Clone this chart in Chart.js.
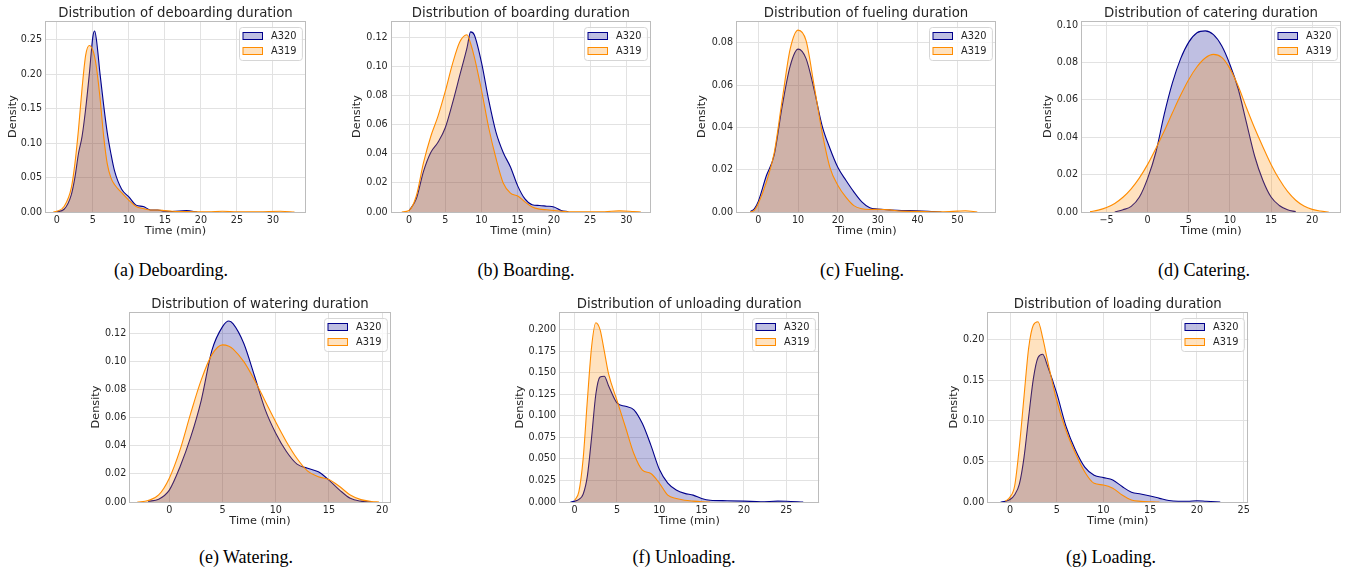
<!DOCTYPE html>
<html>
<head>
<meta charset="utf-8">
<script src="https://cdn.jsdelivr.net/npm/chart.js@4.4.1/dist/chart.umd.min.js"></script>
<style>
body { margin: 0; background: #fff; width: 1348px; height: 571px; position: relative; overflow: hidden; }
canvas { position: absolute; }
.cap { position: absolute; font-family: "Liberation Serif", "Times New Roman", serif; font-size: 18px; color: #000;
  transform: translate(-50%, -50%); white-space: nowrap; }
</style>
</head>
<body>

<script>
// ---- data (KDE curves, density vs. minutes) ----
const debX = [-0.5, 0, 1, 2, 2.5, 3, 3.5, 4, 4.5, 5, 5.25, 5.5, 6, 6.5, 7, 7.5, 8, 9, 10, 11, 12, 13, 14, 15, 16, 18, 19.5, 21, 23, 25, 28, 31, 33];
const debA320 = [null, 0.0003, 0.004, 0.025, 0.05, 0.085, 0.11, 0.15, 0.2, 0.255, 0.263, 0.25, 0.2, 0.155, 0.115, 0.085, 0.06, 0.033, 0.022, 0.01, 0.008, 0.003, 0.003, 0.001, 0.0008, 0.002, 0, null, null, null, null, null, null];
const debA319 = [0, 0.001, 0.008, 0.035, 0.07, 0.12, 0.18, 0.228, 0.242, 0.235, 0.225, 0.21, 0.165, 0.11, 0.07, 0.05, 0.04, 0.028, 0.017, 0.008, 0.005, 0.003, 0.003, 0.002, 0.001, 0.0005, 0.0003, 0.0002, 0.001, 0.0003, 0.0002, 0.001, 0];
const debXTicks = [0, 5, 10, 15, 20, 25, 30];
const debYTicks = [0, 0.05, 0.1, 0.15, 0.2, 0.25];

const brdX = [-1, 0, 1, 2, 3, 4, 5, 6, 7, 8, 8.5, 9, 10, 11, 12, 13, 14, 15, 16, 17, 18, 19, 20, 21, 22, 24, 27, 29, 31, 32];
const brdA320 = [null, 0.0008, 0.009, 0.028, 0.041, 0.048, 0.058, 0.075, 0.094, 0.113, 0.124, 0.122, 0.103, 0.077, 0.055, 0.041, 0.031, 0.018, 0.009, 0.005, 0.0045, 0.004, 0.0035, 0.001, 0.0002, null, null, null, null, null];
const brdA319 = [0, 0.001, 0.011, 0.034, 0.052, 0.066, 0.083, 0.102, 0.117, 0.122, 0.116, 0.107, 0.084, 0.058, 0.037, 0.02, 0.013, 0.011, 0.007, 0.0035, 0.002, 0.0015, 0.001, 0.0005, 0.0002, 0.0001, 0.0002, 0.0008, 0.0003, 0];
const brdXTicks = [0, 5, 10, 15, 20, 25, 30];
const brdYTicks = [0, 0.02, 0.04, 0.06, 0.08, 0.1, 0.12];

const fueX = [-3, -2, -1, 0, 2, 4, 6, 8, 10, 12, 14, 16, 18, 20, 22, 24, 26, 28, 30, 33, 36, 40, 44, 46, 50, 52, 55];
const fueA320 = [null, 0.0003, 0.0015, 0.005, 0.017, 0.027, 0.05, 0.069, 0.077, 0.0725, 0.058, 0.041, 0.03, 0.021, 0.015, 0.0095, 0.0048, 0.002, 0.0014, 0.001, 0.0007, 0.0006, 0.0002, 0, null, null, null];
const fueA319 = [null, 0.0001, 0.0008, 0.004, 0.014, 0.028, 0.053, 0.077, 0.086, 0.081, 0.06, 0.038, 0.021, 0.0125, 0.007, 0.003, 0.0015, 0.0012, 0.0013, 0.001, 0.0004, 0.0003, 0.0001, 0.0001, 0.0004, 0.0006, 0];
const fueXTicks = [0, 10, 20, 30, 40, 50];
const fueYTicks = [0, 0.02, 0.04, 0.06, 0.08];

const catX = [-7, -6, -5, -4, -3, -2, -1, 0, 1, 2, 3, 4, 5, 6, 7, 8, 9, 10, 11, 12, 13, 14, 15, 16, 17, 18, 19, 20, 21, 22];
const catA320 = [null, null, null, 0, 0.0012, 0.003, 0.008, 0.018, 0.032, 0.052, 0.069, 0.082, 0.091, 0.096, 0.097, 0.095, 0.089, 0.079, 0.066, 0.048, 0.03, 0.017, 0.008, 0.0035, 0.0012, 0.0002, null, null, null, null];
const catA319 = [0.0002, 0.001, 0.0024, 0.0046, 0.0079, 0.0124, 0.0183, 0.0255, 0.034, 0.0432, 0.053, 0.0625, 0.071, 0.0778, 0.0825, 0.0844, 0.0828, 0.0768, 0.0675, 0.056, 0.045, 0.035, 0.0255, 0.0175, 0.011, 0.0063, 0.0032, 0.0014, 0.0005, 0];
const catXTicks = [-5, 0, 5, 10, 15, 20];
const catYTicks = [0, 0.02, 0.04, 0.06, 0.08, 0.1];

const watX = [-3, -2, -1, 0, 1, 2, 3, 4, 5, 5.6, 6, 7, 8, 9, 10, 11, 12, 13, 14, 15, 16, 17, 18, 19, 19.7];
const watA320 = [null, 0.0005, 0.002, 0.0085, 0.025, 0.046, 0.0725, 0.108, 0.125, 0.129, 0.127, 0.113, 0.09, 0.066, 0.049, 0.036, 0.027, 0.024, 0.0215, 0.0156, 0.0085, 0.0026, 0.0006, 0.0001, null];
const watA319 = [0, 0.001, 0.005, 0.017, 0.037, 0.063, 0.087, 0.105, 0.112, 0.111, 0.109, 0.1, 0.087, 0.072, 0.057, 0.043, 0.031, 0.022, 0.018, 0.016, 0.011, 0.005, 0.0017, 0.0004, 0];
const watXTicks = [0, 5, 10, 15, 20];
const watYTicks = [0, 0.02, 0.04, 0.06, 0.08, 0.1, 0.12];

const unlX = [-0.5, 0, 0.5, 1, 1.5, 2, 2.5, 3, 3.5, 4, 5, 6, 7, 8, 9, 10, 11, 12, 13, 14, 15, 16, 18, 20, 22, 24, 25, 27];
const unlA320 = [0, 0.001, 0.003, 0.009, 0.03, 0.075, 0.125, 0.145, 0.146, 0.135, 0.115, 0.111, 0.107, 0.091, 0.066, 0.038, 0.022, 0.014, 0.01, 0.008, 0.004, 0.002, 0.0015, 0.001, 0.0003, 0.001, 0.0008, 0];
const unlA319 = [null, 0.002, 0.012, 0.05, 0.118, 0.18, 0.208, 0.2, 0.175, 0.149, 0.118, 0.087, 0.056, 0.037, 0.033, 0.022, 0.008, 0.004, 0.002, 0.001, 0.0003, 0, null, null, null, null, null, null];
const unlXTicks = [0, 5, 10, 15, 20, 25];
const unlYTicks = [0, 0.025, 0.05, 0.075, 0.1, 0.125, 0.15, 0.175, 0.2];

const lodX = [-1, -0.5, 0, 0.5, 1, 1.5, 2, 2.5, 3, 3.5, 4, 5, 6, 7, 8, 9, 10, 11, 12, 13, 14, 15, 16, 17, 18, 19, 20, 21, 22.5];
const lodA320 = [0, 0.001, 0.003, 0.009, 0.022, 0.055, 0.105, 0.152, 0.178, 0.182, 0.168, 0.134, 0.093, 0.064, 0.043, 0.033, 0.03, 0.027, 0.019, 0.012, 0.0098, 0.0074, 0.0045, 0.0018, 0.001, 0.001, 0.0016, 0.0009, 0];
const lodA319 = [null, 0.001, 0.006, 0.02, 0.068, 0.13, 0.19, 0.218, 0.222, 0.202, 0.175, 0.125, 0.088, 0.06, 0.037, 0.023, 0.021, 0.017, 0.0086, 0.0025, 0.0008, 0.0002, 0, null, null, null, null, null, null];
const lodXTicks = [0, 5, 10, 15, 20, 25];
const lodYTicks = [0, 0.05, 0.1, 0.15, 0.2];

// ---- styling ----
const BLUE = '#00008b', BLUE_FILL = 'rgba(0,0,139,0.25)';
const ORANGE = '#ff8c00', ORANGE_FILL = 'rgba(255,140,0,0.25)';
const TEXT = '#262626', GRID = '#e2e2e2', EDGE = '#bcbcbc';
const FS = { title: 13.3, label: 11.3, tick: 9.6, legend: 9.8 };
Chart.defaults.font.family = '"DejaVu Sans", sans-serif';

// panel layout: plot-area box [left, top, right, bottom] in page pixels
const panels = [
  { name: 'deboarding', x: debX, a320: debA320, a319: debA319, xt: debXTicks, yt: debYTicks, dec: 2, xr: [-1.65, 34.6], ymax: 0.2776, box: [45, 21, 306, 212], yOff: 32.3, cap: '(a) Deboarding.', cx: 171, cy: 270 },
  { name: 'boarding', x: brdX, a320: brdA320, a319: brdA319, xt: brdXTicks, yt: brdYTicks, dec: 2, xr: [-2.53, 33.4], ymax: 0.1315, box: [390.7, 21, 651, 212], yOff: 33.4, cap: '(b) Boarding.', cx: 526, cy: 270 },
  { name: 'fueling', x: fueX, a320: fueA320, a319: fueA319, xt: fueXTicks, yt: fueYTicks, dec: 2, xr: [-5.6, 59.7], ymax: 0.0903, box: [736, 21, 996, 212], yOff: 34, cap: '(c) Fueling.', cx: 862, cy: 270 },
  { name: 'catering', x: catX, a320: catA320, a319: catA319, xt: catXTicks, yt: catYTicks, dec: 2, xr: [-8.1, 23.5], ymax: 0.1023, box: [1081, 21, 1341, 212], yOff: 33.3, cap: '(d) Catering.', cx: 1204, cy: 270 },
  { name: 'watering', x: watX, a320: watA320, a319: watA319, xt: watXTicks, yt: watYTicks, dec: 2, xr: [-3.76, 20.8], ymax: 0.1354, box: [129.3, 312, 390.7, 502], yOff: 33.3, cap: '(e) Watering.', cx: 246, cy: 557 },
  { name: 'unloading', x: unlX, a320: unlA320, a319: unlA319, xt: unlXTicks, yt: unlYTicks, dec: 3, xr: [-1.85, 28.9], ymax: 0.2205, box: [559, 312, 819.3, 502], yOff: 39, cap: '(f) Unloading.', cx: 684, cy: 557 },
  { name: 'loading', x: lodX, a320: lodA320, a319: lodA319, xt: lodXTicks, yt: lodYTicks, dec: 2, xr: [-2.43, 25.5], ymax: 0.234, box: [987.3, 312, 1248.3, 502], yOff: 33, cap: '(g) Loading.', cx: 1111, cy: 557 }
];

// axes frame on all four sides (matplotlib spines)
const frame = {
  id: 'frame',
  afterDatasetsDraw(chart) {
    const { ctx, chartArea: a } = chart;
    const l = Math.round(a.left), t = Math.round(a.top), r = Math.round(a.right), b = Math.round(a.bottom);
    ctx.save();
    ctx.strokeStyle = EDGE;
    ctx.lineWidth = 1;
    ctx.strokeRect(l + 0.5, t + 0.5, r - l - 1, b - t);
    ctx.restore();
  }
};

// legend boxed inside the upper right corner
const boxLegend = {
  id: 'boxLegend',
  afterDraw(chart) {
    const { ctx, chartArea: a } = chart;
    const sets = chart.data.datasets;
    ctx.save();
    ctx.font = FS.legend + 'px "DejaVu Sans"';
    const tw = Math.max(...sets.map(d => ctx.measureText(d.label).width));
    const w = 31.5 + tw + 6, h = 33;
    const x = Math.round(a.right - 4 - w) + 0.5, y = Math.round(a.top + 6) + 0.5;
    ctx.beginPath();
    ctx.roundRect(x, y, w, h, 3);
    ctx.fillStyle = 'rgba(255,255,255,0.8)';
    ctx.fill();
    ctx.strokeStyle = '#d6d6d6';
    ctx.lineWidth = 1;
    ctx.stroke();
    sets.forEach((d, i) => {
      const cy = y + 8 + i * 15.2;
      ctx.fillStyle = d.backgroundColor;
      ctx.fillRect(x + 3.5, Math.round(cy - 4) + 0.5, 19.5, 7);
      ctx.strokeStyle = d.borderColor;
      ctx.strokeRect(x + 3.5, Math.round(cy - 4) + 0.5, 19.5, 7);
      ctx.fillStyle = TEXT;
      ctx.textBaseline = 'middle';
      ctx.fillText(d.label, x + 31.5, cy + 0.5);
    });
    ctx.restore();
  }
};

function pts(xs, ys) {
  return xs.map((x, i) => ({ x: x, y: ys[i] }));
}

function fmtX(v) {
  return v < 0 ? '\u2212' + Math.abs(v) : String(v);
}

panels.forEach(p => {
  const [l, t, r, b] = p.box;
  const lhLabel = FS.label * 1.2, lhTitle = FS.title * 1.2;
  const cl = Math.floor(l - p.yOff - lhLabel / 2 - 0.5);
  const ct = Math.floor(t - 20);
  const cw = Math.ceil(r + 4) - cl;
  const ch = Math.ceil(b + 27) - ct;
  const L = l - cl, T = t - ct, R = cl + cw - r, B = ct + ch - b;
  const titleTop = T - 7.7 - lhTitle / 2;

  const canvas = document.createElement('canvas');
  canvas.width = cw;
  canvas.height = ch;
  canvas.style.left = cl + 'px';
  canvas.style.top = ct + 'px';
  canvas.style.width = cw + 'px';
  canvas.style.height = ch + 'px';
  document.body.appendChild(canvas);

  const cap = document.createElement('div');
  cap.className = 'cap';
  cap.textContent = p.cap;
  cap.style.left = p.cx + 'px';
  cap.style.top = p.cy + 'px';
  document.body.appendChild(cap);

  new Chart(canvas, {
    type: 'line',
    data: {
      datasets: [
        { label: 'A320', data: pts(p.x, p.a320), borderColor: BLUE, backgroundColor: BLUE_FILL, fill: 'origin', order: 1 },
        { label: 'A319', data: pts(p.x, p.a319), borderColor: ORANGE, backgroundColor: ORANGE_FILL, fill: 'origin', order: 0 }
      ]
    },
    options: {
      responsive: false,
      animation: false,
      events: [],
      layout: { padding: { left: 0, top: 0, right: R, bottom: 0 } },
      elements: {
        point: { radius: 0 },
        line: { borderWidth: 1.1, cubicInterpolationMode: 'monotone' }
      },
      plugins: {
        legend: { display: false },
        tooltip: { enabled: false },
        filler: { drawTime: 'beforeDatasetDraw' },
        title: {
          display: true,
          text: 'Distribution of ' + p.name + ' duration',
          fullSize: false,
          color: TEXT,
          font: { size: FS.title, weight: 'normal', lineHeight: 1.2 },
          padding: { top: titleTop, bottom: T - titleTop - lhTitle }
        }
      },
      scales: {
        x: {
          type: 'linear',
          min: p.xr[0],
          max: p.xr[1],
          afterFit: s => { s.height = B; },
          afterBuildTicks: s => { s.ticks = p.xt.map(v => ({ value: v })); },
          ticks: { autoSkip: false, maxRotation: 0, padding: 2.5, color: TEXT, font: { size: FS.tick }, callback: fmtX },
          grid: { color: GRID, drawTicks: false },
          border: { display: false },
          title: {
            display: true, text: 'Time (min)', color: TEXT,
            font: { size: FS.label, lineHeight: 1.2 },
            padding: { top: 0, bottom: B - 18.7 - lhLabel / 2 }
          }
        },
        y: {
          type: 'linear',
          min: 0,
          max: p.ymax,
          afterFit: s => { s.width = L; },
          afterBuildTicks: s => { s.ticks = p.yt.map(v => ({ value: v })); },
          ticks: { autoSkip: false, padding: 3, color: TEXT, font: { size: FS.tick }, callback: v => v.toFixed(p.dec) },
          grid: { color: GRID, drawTicks: false },
          border: { display: false },
          title: {
            display: true, text: 'Density', color: TEXT,
            font: { size: FS.label, lineHeight: 1.2 },
            padding: { top: L - p.yOff - lhLabel / 2, bottom: 0 }
          }
        }
      }
    },
    plugins: [frame, boxLegend]
  });
});
</script>
</body>
</html>
